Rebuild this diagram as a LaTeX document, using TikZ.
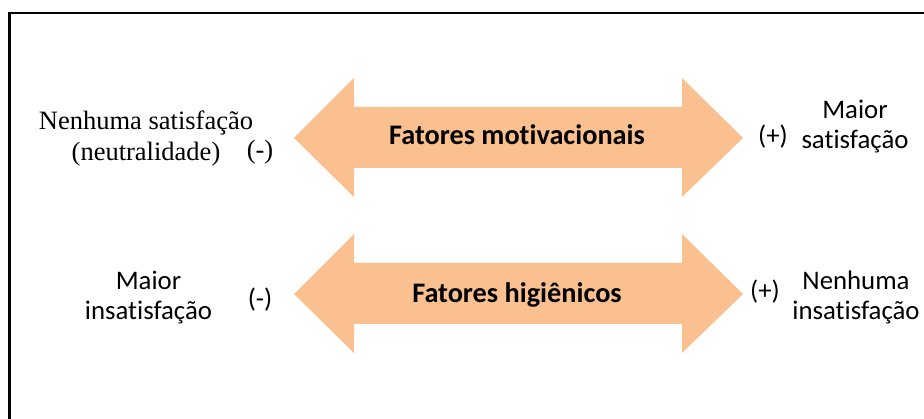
\documentclass[tikz,border=0pt]{standalone}
\usepackage{fontspec}
\setmainfont[Ligatures=NoCommon]{Carlito}
\newfontfamily\seriffont{Liberation Serif}
\definecolor{peach}{RGB}{250,192,144}
\begin{document}
\begin{tikzpicture}[x=1pt,y=-1pt,
  lbl/.style={inner sep=0pt, align=center, font=\fontsize{26.8}{30}\selectfont},
  slbl/.style={inner sep=0pt, align=center, font=\seriffont\fontsize{26.5}{31}\selectfont},
  title/.style={inner sep=0pt, anchor=base, font=\bfseries\fontsize{28.3}{32}\selectfont},
  arrowfill/.style={fill=peach, draw=none}]
\useasboundingbox (0,0) rectangle (924,419);
% frame (only top and left edges visible)
\draw[line width=2.2pt] (924,13) -- (9.5,13) -- (9.5,419);
% arrows
\foreach \dy/\nm in {0/a, 156/b}{
  \fill[peach] (294,138+\dy) -- (354,78+\dy) -- (354,107+\dy) -- (682,107+\dy)
    -- (682,78+\dy) -- (743,138+\dy) -- (682,197+\dy) -- (682,168+\dy)
    -- (354,168+\dy) -- (354,197+\dy) -- cycle;
}
\node[title] (mot) at (517,145) {Fatores motivacionais};
\node[title] (hig) at (517,303) {Fatores higiênicos};
% top row
\node[slbl] (tl) at (146,138) {Nenhuma satisfação\\(neutralidade)};
\node[slbl] (tlm) at (260,152) {(-)};
\node[lbl] (trp) at (773,137) {(+)};
\node[lbl] (tr) at (855,127) {Maior\\satisfação};
% bottom row
\node[lbl] (bl) at (148.5,298) {Maior\\insatisfação};
\node[lbl] (blm) at (260,300) {(-)};
\node[lbl] (brp) at (765,292) {(+)};
\node[lbl] (br) at (856,297) {Nenhuma\\insatisfação};
\end{tikzpicture}
\end{document}
